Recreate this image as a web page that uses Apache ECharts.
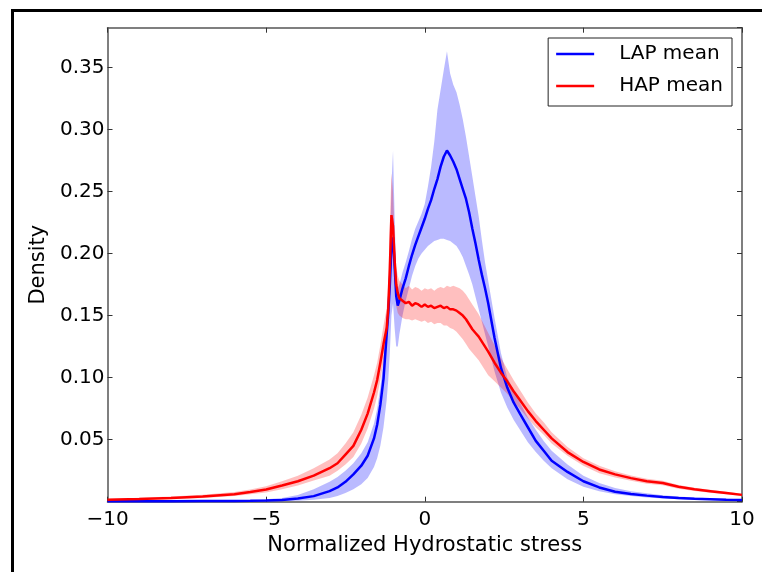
<!DOCTYPE html>
<html><head><meta charset="utf-8">
<script src="https://cdn.jsdelivr.net/npm/echarts@6/dist/echarts.min.js"></script>
<style>html,body{margin:0;padding:0;background:#fff}#c{width:762px;height:572px}</style>
</head><body><div id="c"></div>
<script>
// x positions (Normalized Hydrostatic stress)
const xValues = [
  -10,-9,-8,-7,-6,-5.5,-5,-4.5,-4,-3.5,
  -3,-2.75,-2.5,-2.25,-2,-1.8,-1.6,-1.5,-1.4,-1.3,-1.2,-1.15,
  -1.1,-1.05,-1,-0.95,-0.9,-0.85,-0.8,-0.7,-0.6,-0.5,-0.4,-0.3,-0.2,-0.1,
  0,0.1,0.2,0.3,0.4,0.5,0.6,0.7,0.8,0.9,1.0,
  1.1,1.2,1.3,1.4,1.5,1.6,1.7,1.8,1.9,2.0,
  2.2,2.4,2.6,2.8,3.0,3.25,3.5,3.75,4.0,
  4.5,5,5.5,6,6.5,7,7.5,8,8.5,9,9.5,10
];
const lapMean = [
  0.0003,0.0003,0.0004,0.0005,0.0006,0.0007,0.0009,0.0013,0.0025,0.0045,
  0.0085,0.0115,0.016,0.022,0.029,0.037,0.051,0.062,0.078,0.099,0.135,0.152,
  0.175,0.205,0.213,0.19,0.166,0.158,0.162,0.172,0.180,0.190,0.199,0.207,0.214,0.221,
  0.228,0.236,0.243,0.252,0.260,0.270,0.278,0.283,0.279,0.274,0.268,
  0.260,0.252,0.244,0.233,0.220,0.208,0.195,0.183,0.172,0.160,
  0.132,0.108,0.092,0.080,0.071,0.060,0.049,0.041,0.033,
  0.024,0.0165,0.0115,0.0080,0.0062,0.0049,0.0037,0.003,0.0024,0.002,0.0016,0.0013
];
const lapLow = [
  0.0001,0.0001,0.0001,0.0002,0.0002,0.0003,0.0003,0.0005,0.0008,0.0015,
  0.003,0.0045,0.007,0.010,0.014,0.019,0.028,0.035,0.045,0.060,0.082,0.098,
  0.12,0.15,0.16,0.14,0.125,0.125,0.135,0.150,0.162,0.172,0.182,0.190,0.196,0.200,
  0.203,0.206,0.208,0.210,0.211,0.212,0.212,0.211,0.210,0.208,0.206,
  0.202,0.197,0.190,0.183,0.175,0.165,0.155,0.145,0.135,0.125,
  0.105,0.088,0.076,0.066,0.058,0.048,0.040,0.033,0.027,
  0.018,0.012,0.0085,0.006,0.0045,0.0034,0.0026,0.002,0.0016,0.0013,0.001,0.0008
];
const lapHigh = [
  0.0006,0.0007,0.0008,0.001,0.0012,0.0014,0.002,0.003,0.0055,0.010,
  0.016,0.020,0.025,0.031,0.039,0.048,0.063,0.075,0.092,0.114,0.145,0.168,
  0.20,0.255,0.283,0.23,0.185,0.172,0.175,0.185,0.193,0.202,0.212,0.220,0.226,0.232,
  0.240,0.254,0.270,0.290,0.316,0.332,0.348,0.363,0.345,0.336,0.330,
  0.320,0.308,0.294,0.278,0.262,0.246,0.230,0.211,0.193,0.178,
  0.148,0.120,0.100,0.090,0.080,0.068,0.058,0.049,0.041,
  0.030,0.021,0.015,0.011,0.0085,0.0068,0.0052,0.0042,0.0034,0.0028,0.0023,0.0019
];
const hapMean = [
  0.0015,0.0022,0.003,0.0042,0.006,0.0078,0.0098,0.013,0.0165,0.021,
  0.027,0.031,0.038,0.045,0.058,0.071,0.088,0.098,0.112,0.127,0.140,0.156,
  0.188,0.231,0.222,0.195,0.175,0.168,0.164,0.162,0.160,0.161,0.158,0.160,0.159,0.157,
  0.159,0.157,0.158,0.156,0.157,0.158,0.156,0.157,0.155,0.155,0.154,
  0.152,0.150,0.147,0.143,0.139,0.136,0.133,0.129,0.125,0.121,
  0.112,0.104,0.097,0.089,0.082,0.073,0.065,0.058,0.051,
  0.040,0.032,0.026,0.022,0.019,0.0165,0.015,0.012,0.010,0.0085,0.007,0.0055
];
const hapLow = [
  0.0008,0.0013,0.002,0.003,0.0045,0.006,0.0075,0.010,0.013,0.017,
  0.021,0.025,0.030,0.036,0.047,0.059,0.075,0.085,0.098,0.113,0.126,0.140,
  0.168,0.200,0.200,0.178,0.158,0.152,0.150,0.148,0.147,0.147,0.146,0.147,0.146,0.145,
  0.146,0.144,0.145,0.143,0.144,0.144,0.142,0.142,0.140,0.139,0.137,
  0.134,0.131,0.127,0.123,0.120,0.117,0.114,0.110,0.106,0.102,
  0.097,0.092,0.087,0.081,0.075,0.067,0.060,0.054,0.047,
  0.037,0.029,0.023,0.0195,0.0168,0.0145,0.0132,0.0105,0.0087,0.0073,0.006,0.0046
];
const hapHigh = [
  0.0022,0.0032,0.0042,0.0056,0.0078,0.0098,0.0125,0.0165,0.021,0.027,
  0.034,0.039,0.047,0.056,0.070,0.084,0.102,0.112,0.126,0.142,0.156,0.176,
  0.225,0.265,0.250,0.215,0.190,0.182,0.178,0.175,0.172,0.174,0.171,0.173,0.172,0.170,
  0.172,0.171,0.172,0.170,0.172,0.173,0.172,0.174,0.173,0.174,0.173,
  0.172,0.170,0.167,0.163,0.159,0.155,0.151,0.146,0.141,0.136,
  0.126,0.116,0.107,0.098,0.090,0.080,0.071,0.064,0.056,
  0.044,0.035,0.029,0.0245,0.0212,0.0185,0.0168,0.0135,0.0113,0.0097,0.008,0.0064
];
const xTicks = [-10, -5, 0, 5, 10];
const yTicks = [0.05, 0.10, 0.15, 0.20, 0.25, 0.30, 0.35];

const FONT = 'DejaVu Sans';
const chart = echarts.init(document.getElementById('c'), null, {renderer: 'canvas'});
const pairs = ys => xValues.map((x, i) => [x, ys[i]]);
const axisLineStyle = {color: '#555', width: 1.5};
const tickStyle = {show: true, inside: true, length: 5, lineStyle: {color: '#333', width: 1}};

function bandSeries(name, lo, hi, color) {
  return {
    name: name, type: 'custom', coordinateSystem: 'cartesian2d', silent: true, z: 1, clip: true,
    data: [[xValues[0], lo[0]]],
    renderItem: function (params, api) {
      const pts = [];
      for (let i = 0; i < xValues.length; i++) pts.push(api.coord([xValues[i], hi[i]]));
      for (let i = xValues.length - 1; i >= 0; i--) pts.push(api.coord([xValues[i], lo[i]]));
      return {type: 'polygon', shape: {points: pts}, style: {fill: color, stroke: null}};
    }
  };
}

chart.setOption({
  animation: false,
  backgroundColor: '#fff',
  grid: {left: 107.5, top: 27.7, right: 20, bottom: 70.3, containLabel: false},
  xAxis: [{
    type: 'value', min: -10, max: 10, interval: 5, position: 'bottom',
    axisLine: {show: true, onZero: false, lineStyle: axisLineStyle},
    axisTick: tickStyle,
    splitLine: {show: false},
    axisLabel: {color: '#000', fontFamily: FONT, fontSize: 20, margin: 8,
      formatter: v => xTicks.indexOf(v) >= 0 ? (v < 0 ? '\u2212' + Math.abs(v) : String(v)) : ''},
    name: 'Normalized Hydrostatic stress', nameLocation: 'middle', nameGap: 33,
    nameTextStyle: {color: '#000', fontFamily: FONT, fontSize: 21}
  }, {
    type: 'value', min: -10, max: 10, interval: 5, position: 'top',
    axisLine: {show: true, onZero: false, lineStyle: axisLineStyle},
    axisTick: tickStyle,
    splitLine: {show: false}, axisLabel: {show: false}
  }],
  yAxis: [{
    type: 'value', min: 0, max: 0.382, interval: 0.05, position: 'left',
    axisLine: {show: true, onZero: false, lineStyle: axisLineStyle},
    axisTick: tickStyle,
    splitLine: {show: false},
    axisLabel: {color: '#000', fontFamily: FONT, fontSize: 20, margin: 3,
      showMinLabel: false, showMaxLabel: false,
      formatter: v => {
        const r = Math.round(v * 100) / 100;
        return yTicks.some(t => Math.abs(t - r) < 1e-9) && Math.abs(v - r) < 1e-6 ? r.toFixed(2) : '';
      }},
    name: 'Density', nameLocation: 'middle', nameGap: 56, nameRotate: 90,
    nameTextStyle: {color: '#000', fontFamily: FONT, fontSize: 21}
  }, {
    type: 'value', min: 0, max: 0.382, interval: 0.05, position: 'right',
    axisLine: {show: true, onZero: false, lineStyle: axisLineStyle},
    axisTick: tickStyle,
    splitLine: {show: false}, axisLabel: {show: false}
  }],
  legend: {
    data: [{name: 'LAP mean'}, {name: 'HAP mean'}],
    orient: 'vertical', right: 30, top: 38,
    icon: 'rect', itemWidth: 38, itemHeight: 2.5, itemGap: 8,
    padding: [4, 9, 8, 8],
    borderColor: '#222', borderWidth: 1, backgroundColor: '#fff',
    textStyle: {color: '#000', fontFamily: FONT, fontSize: 20, lineHeight: 24, padding: [0, 0, 0, 20]}
  },
  series: [
    bandSeries('lapBand', lapLow, lapHigh, 'rgba(0,0,255,0.27)'),
    bandSeries('hapBand', hapLow, hapHigh, 'rgba(255,0,0,0.25)'),
    {name: 'LAP mean', type: 'line', data: pairs(lapMean), symbol: 'none', color: '#0000ff',
      lineStyle: {color: '#0000ff', width: 2.5}, z: 3},
    {name: 'HAP mean', type: 'line', data: pairs(hapMean), symbol: 'none', color: '#ff0000',
      lineStyle: {color: '#ff0000', width: 2.5}, z: 4}
  ],
  graphic: [{
    type: 'polyline', silent: true, z: 100,
    shape: {points: [[12.5, 572], [12.5, 10.5], [762, 10.5]]},
    style: {stroke: '#000', lineWidth: 3, fill: null}
  }]
});
</script>
</body></html>
